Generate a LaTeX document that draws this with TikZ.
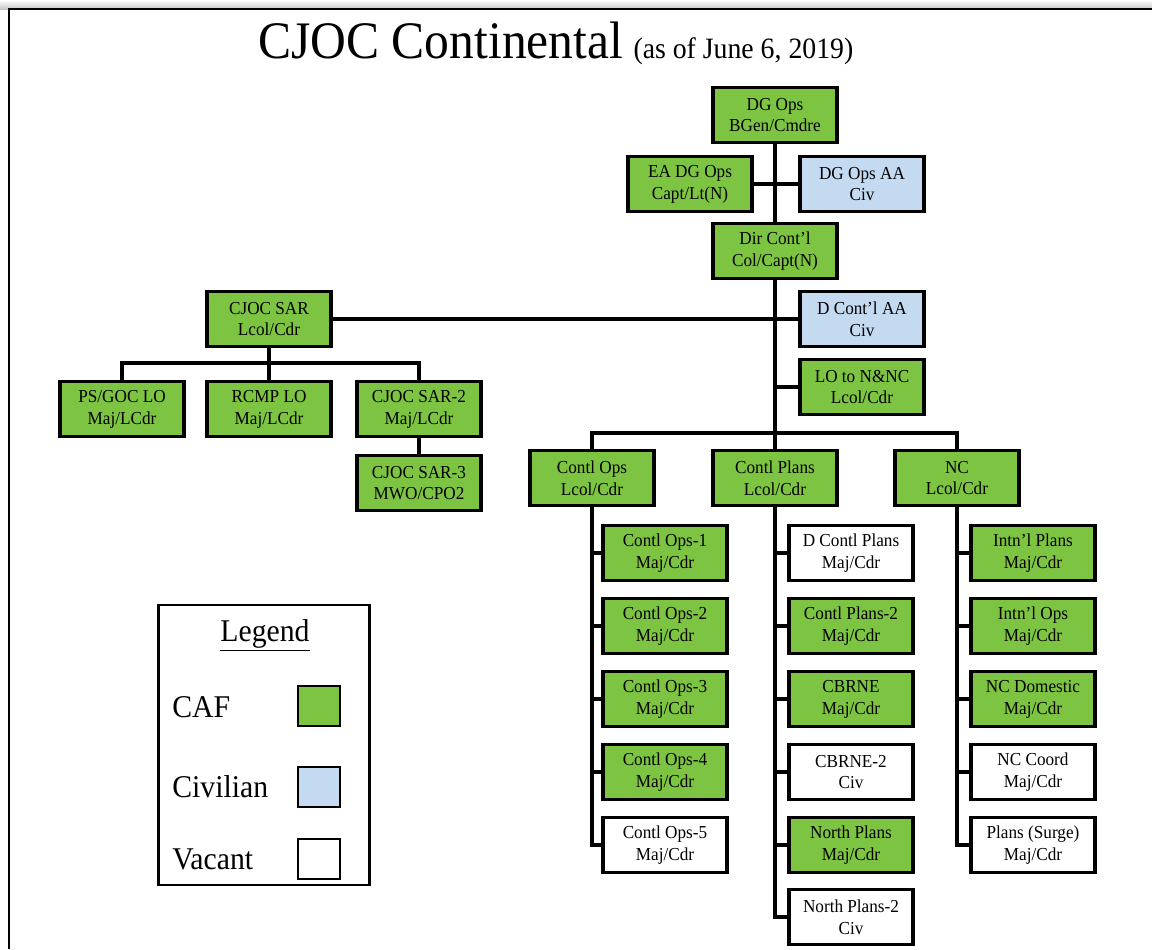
\documentclass[tikz,border=0pt]{standalone}
\usepackage{fontspec}
\setmainfont{Liberation Serif}[FakeStretch=0.94]
\usepackage{tikz}
\definecolor{cafgreen}{RGB}{125,196,66}
\definecolor{civblue}{RGB}{196,218,240}
\tikzset{
  post box/.style={
    rectangle, draw=black, line width=2.4pt, align=center, inner sep=0pt,
    minimum width=3.1cm, minimum height=1.38cm,
    font=\fontsize{13}{15.5}\selectfont
  },
  caf box/.style={post box, fill=cafgreen},
  civ box/.style={post box, fill=civblue},
  vacant box/.style={post box, fill=white},
  link/.style={draw=black, line width=2.6pt},
  swatch/.style={
    rectangle, draw=black, line width=2pt, inner sep=0pt,
    minimum width=1.05cm, minimum height=1.0cm
  }
}

\begin{document}
\begin{tikzpicture}[x=0.025cm, y=-0.025cm]
\useasboundingbox (0,0) rectangle (1152,949);

% page frame
\shade[top color=white, bottom color=gray!45] (0,0) rectangle (1152,9);
\draw[line width=1.6pt] (9,949) -- (9,9) -- (1152,9);

% title
\node[anchor=base west, inner sep=0pt, font=\fontsize{37.5}{40}\selectfont] (title) at (258,58) {CJOC Continental};
\node[anchor=base west, inner sep=0pt, font=\fontsize{21}{23}\selectfont] (subtitle) at ([xshift=7pt]title.base east) {(as of June 6, 2019)};

% top of the chart
\begin{scope}
  \node[caf box] (dgops) at (775,115) {DG Ops\\BGen/Cmdre};
  \node[caf box] (eadg)  at (690,184) {EA DG Ops\\Capt/Lt(N)};
  \node[civ box] (dgaa)  at (862,184) {DG Ops AA\\Civ};
  \node[caf box] (dir)   at (775,251) {Dir Cont'l\\Col/Capt(N)};
  \node[civ box] (dcaa)  at (862,319) {D Cont'l AA\\Civ};
  \node[caf box] (lonnc) at (862,387) {LO to N\&NC\\Lcol/Cdr};
  \coordinate (bus) at (775,433);

  \draw[link] (dgops) -- (dir);
  \draw[link] (eadg) -- (dgaa);
  \draw[link] (dir) -- (bus);
  \draw[link] (lonnc) -- (lonnc -| dir);
\end{scope}

% SAR branch
\begin{scope}
  \node[caf box] (sar)   at (269,319) {CJOC SAR\\Lcol/Cdr};
  \node[caf box] (psgoc) at (122,409) {PS/GOC LO\\Maj/LCdr};
  \node[caf box] (rcmp)  at (269,409) {RCMP LO\\Maj/LCdr};
  \node[caf box] (sar2)  at (419,409) {CJOC SAR-2\\Maj/LCdr};
  \node[caf box] (sar3)  at (419,483) {CJOC SAR-3\\MWO/CPO2};
  \coordinate (sarbus) at (269,363);

  \draw[link] (sar) -- (dcaa);
  \draw[link] (sar) -- (sarbus);
  \draw[link] (psgoc) |- (sarbus) -| (sar2);
  \draw[link] (rcmp) -- (sarbus);
  \draw[link] (sar2) -- (sar3);
\end{scope}

% Contl Ops column
\begin{scope}
  \node[caf box]    (cops) at (592,478) {Contl Ops\\Lcol/Cdr};
  \node[caf box]    (ops1) at (665,553) {Contl Ops-1\\Maj/Cdr};
  \node[caf box]    (ops2) at (665,626) {Contl Ops-2\\Maj/Cdr};
  \node[caf box]    (ops3) at (665,699) {Contl Ops-3\\Maj/Cdr};
  \node[caf box]    (ops4) at (665,772) {Contl Ops-4\\Maj/Cdr};
  \node[vacant box] (ops5) at (665,845) {Contl Ops-5\\Maj/Cdr};

  \draw[link] (bus) -| (cops);
  \draw[link] (cops) |- (ops5);
  \draw[link] (ops1) -- (ops1 -| cops);
  \draw[link] (ops2) -- (ops2 -| cops);
  \draw[link] (ops3) -- (ops3 -| cops);
  \draw[link] (ops4) -- (ops4 -| cops);
\end{scope}

% Contl Plans column
\begin{scope}
  \node[caf box]    (cplans) at (775,478) {Contl Plans\\Lcol/Cdr};
  \node[vacant box] (pln1) at (851,553) {D Contl Plans\\Maj/Cdr};
  \node[caf box]    (pln2) at (851,626) {Contl Plans-2\\Maj/Cdr};
  \node[caf box]    (pln3) at (851,699) {CBRNE\\Maj/Cdr};
  \node[vacant box] (pln4) at (851,772) {CBRNE-2\\Civ};
  \node[caf box]    (pln5) at (851,845) {North Plans\\Maj/Cdr};
  \node[vacant box] (pln6) at (851,917) {North Plans-2\\Civ};

  \draw[link] (bus) -- (cplans);
  \draw[link] (cplans) |- (pln6);
  \draw[link] (pln1) -- (pln1 -| cplans);
  \draw[link] (pln2) -- (pln2 -| cplans);
  \draw[link] (pln3) -- (pln3 -| cplans);
  \draw[link] (pln4) -- (pln4 -| cplans);
  \draw[link] (pln5) -- (pln5 -| cplans);
\end{scope}

% NC column
\begin{scope}
  \node[caf box]    (nc)  at (957,478) {NC\\Lcol/Cdr};
  \node[caf box]    (nc1) at (1033,553) {Intn'l Plans\\Maj/Cdr};
  \node[caf box]    (nc2) at (1033,626) {Intn'l Ops\\Maj/Cdr};
  \node[caf box]    (nc3) at (1033,699) {NC Domestic\\Maj/Cdr};
  \node[vacant box] (nc4) at (1033,772) {NC Coord\\Maj/Cdr};
  \node[vacant box] (nc5) at (1033,845) {Plans (Surge)\\Maj/Cdr};

  \draw[link] (bus) -| (nc);
  \draw[link] (nc) |- (nc5);
  \draw[link] (nc1) -- (nc1 -| nc);
  \draw[link] (nc2) -- (nc2 -| nc);
  \draw[link] (nc3) -- (nc3 -| nc);
  \draw[link] (nc4) -- (nc4 -| nc);
\end{scope}

% legend
\begin{scope}[font=\fontsize{22.5}{25}\selectfont]
  \node[draw=black, line width=2pt, minimum width=5.28cm, minimum height=7.0cm] (legend) at (264,745) {};
  \node[anchor=base, inner sep=0pt] (legendtitle) at (265,641) {\underline{Legend}};
  \node[anchor=base west, inner sep=0pt] (caflbl) at (172,717) {CAF};
  \node[anchor=base west, inner sep=0pt] (civlbl) at (172,797) {Civilian};
  \node[anchor=base west, inner sep=0pt] (vaclbl) at (172,869) {Vacant};
  \node[swatch, fill=cafgreen] (cafkey) at (319,706) {};
  \node[swatch, fill=civblue]  (civkey) at (319,787) {};
  \node[swatch, fill=white]    (vackey) at (319,859) {};
\end{scope}

\end{tikzpicture}
\end{document}
